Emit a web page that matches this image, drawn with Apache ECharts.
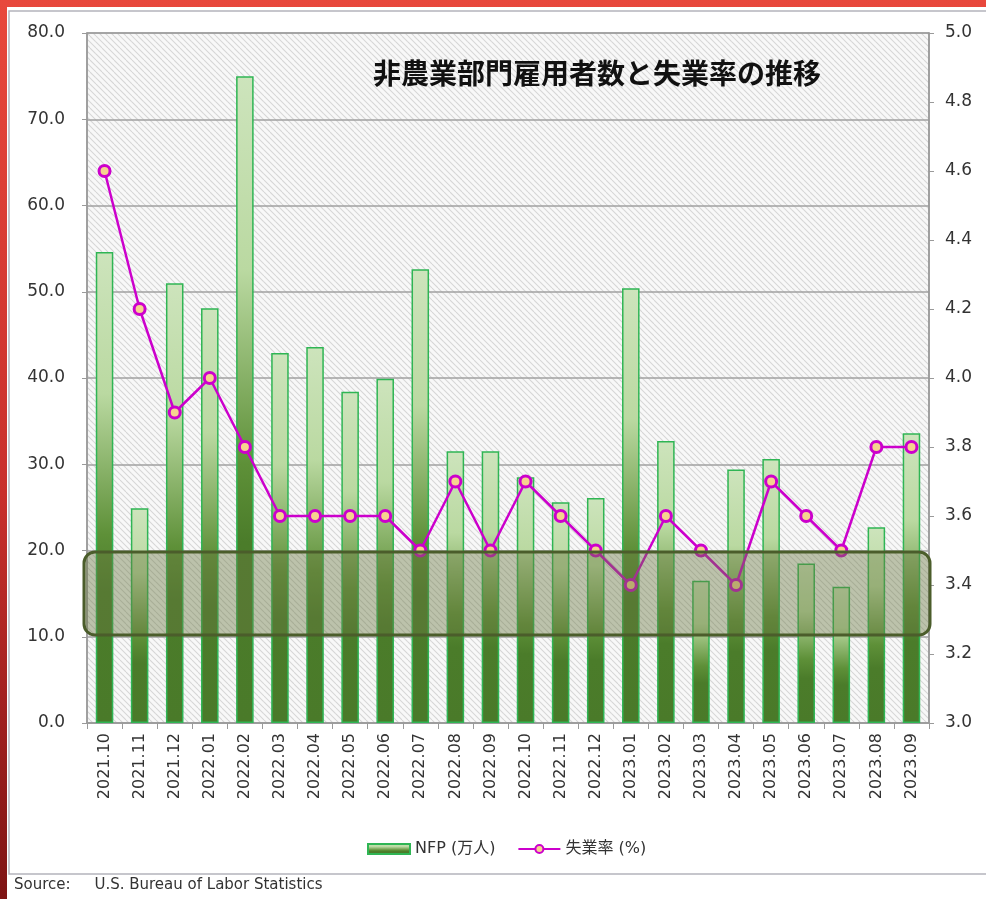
<!DOCTYPE html>
<html>
<head>
<meta charset="utf-8">
<script src="https://cdn.jsdelivr.net/npm/echarts@6/dist/echarts.min.js"></script>
<style>
    html, body { margin: 0; padding: 0; }
    #main {
        width: 986px; height: 899px;
        background: linear-gradient(180deg, #e8483c 0%, #c8302c 55%, #7e1414 100%);
    }
</style>
</head>
<body>
<div id="main"></div>
<script>
// 月
let months = ['2021.10', '2021.11', '2021.12', '2022.01', '2022.02', '2022.03', '2022.04', '2022.05',
    '2022.06', '2022.07', '2022.08', '2022.09', '2022.10', '2022.11', '2022.12', '2023.01',
    '2023.02', '2023.03', '2023.04', '2023.05', '2023.06', '2023.07', '2023.08', '2023.09'];

// 非農業部門雇用者数 (万人)
let nfp = [54.6, 24.9, 51.0, 48.1, 75.0, 42.9, 43.6, 38.4, 39.9, 52.6, 31.5, 31.5,
    28.5, 25.6, 26.1, 50.4, 32.7, 16.5, 29.4, 30.6, 18.5, 15.8, 22.7, 33.6];

// 失業率 (%)
let rate = [4.6, 4.2, 3.9, 4.0, 3.8, 3.6, 3.6, 3.6, 3.6, 3.5, 3.7, 3.5,
    3.7, 3.6, 3.5, 3.4, 3.6, 3.5, 3.4, 3.7, 3.6, 3.5, 3.8, 3.8];

let seriesNames = ['NFP (万人)', '失業率 (%)'];

// 斜線の背景パターン
function hatchCanvas() {
    let c = document.createElement('canvas');
    c.width = 12; c.height = 12;
    let ctx = c.getContext('2d');
    ctx.fillStyle = '#f8f8f8';
    ctx.fillRect(0, 0, 12, 12);
    ctx.strokeStyle = '#d6d6d6';
    ctx.lineWidth = 1.1;
    for (let k = -24; k <= 24; k += 6) {
        ctx.beginPath();
        ctx.moveTo(k, 0);
        ctx.lineTo(k + 12, 12);
        ctx.stroke();
    }
    return c;
}

let dom = document.getElementById('main');
let myChart = echarts.init(dom);

let labelFont = 'DejaVu Sans';

let option = {
    backgroundColor: 'transparent',
    animation: false,
    title: {
        text: '非農業部門雇用者数と失業率の推移',
        left: 368,
        top: 54,
        textStyle: {
            fontFamily: 'Noto Sans CJK JP',
            fontSize: 28,
            fontWeight: 'bold',
            color: '#111'
        }
    },
    legend: {
        data: [
            {name: seriesNames[0], icon: 'rect'},
            {name: seriesNames[1]}
        ],
        left: 362,
        top: 836,
        itemGap: 22,
        itemWidth: 42,
        itemHeight: 10,
        textStyle: {
            fontFamily: labelFont + ', Noto Sans CJK JP',
            fontSize: 16,
            color: '#333'
        }
    },
    grid: {
        left: 87,
        right: 57,
        top: 33,
        bottom: 176,
        show: true,
        backgroundColor: {image: hatchCanvas(), repeat: 'repeat'},
        borderColor: '#9a9a9a',
        borderWidth: 1.5
    },
    graphic: [
        {
            type: 'rect',
            z: -10,
            shape: {x: 7, y: 7, width: 985, height: 900},
            style: {fill: '#ffffff'}
        },
        {
            type: 'rect',
            z: -9,
            shape: {x: 9, y: 11, width: 990, height: 863},
            style: {fill: 'transparent', stroke: '#b4b4bc', lineWidth: 1.5}
        },
        {
            type: 'text',
            left: 14,
            top: 878,
            style: {
                text: 'Source:     U.S. Bureau of Labor Statistics',
                font: '15px DejaVu Sans',
                fill: '#333'
            }
        },
        {
            // 強調枠
            type: 'rect',
            z: 100,
            shape: {x: 84, y: 552, width: 846, height: 83, r: 11},
            style: {
                fill: 'rgba(105,118,65,0.42)',
                stroke: '#4b5d2b',
                lineWidth: 3
            }
        }
    ],
    xAxis: [{
        type: 'category',
        data: months,
        boundaryGap: true,
        axisLine: {lineStyle: {color: '#9a9a9a', width: 1.5}},
        axisTick: {show: true, length: 6, lineStyle: {color: '#9a9a9a'}},
        axisLabel: {
            interval: 0,
            rotate: 90,
            margin: 10,
            fontFamily: labelFont,
            fontSize: 16,
            color: '#333'
        }
    }],
    yAxis: [{
        type: 'value',
        min: 0,
        max: 80,
        interval: 10,
        axisLine: {show: true, lineStyle: {color: '#9a9a9a', width: 1.5}},
        axisTick: {show: true, length: 5, lineStyle: {color: '#9a9a9a'}},
        splitLine: {lineStyle: {color: '#a0a0a0', width: 1.5}},
        axisLabel: {
            margin: 22,
            fontFamily: labelFont,
            fontSize: 17,
            color: '#333',
            formatter: function (v) { return v.toFixed(1); }
        }
    }, {
        type: 'value',
        min: 3.0,
        max: 5.0,
        interval: 0.2,
        position: 'right',
        axisLine: {show: true, lineStyle: {color: '#9a9a9a', width: 1.5}},
        axisTick: {show: true, length: 5, lineStyle: {color: '#9a9a9a'}},
        splitLine: {show: false},
        axisLabel: {
            margin: 16,
            fontFamily: labelFont,
            fontSize: 17,
            color: '#333',
            formatter: function (v) { return v.toFixed(1); }
        }
    }],
    series: [{
        name: seriesNames[0],
        type: 'bar',
        barWidth: '50%',
        data: nfp,
        itemStyle: {
            color: new echarts.graphic.LinearGradient(0, 0, 0, 1, [
                {offset: 0, color: '#cde4bc'},
                {offset: 0.3, color: '#bad9a1'},
                {offset: 0.6, color: '#5e9038'},
                {offset: 0.72, color: '#4b7c2a'},
                {offset: 1, color: '#4a7a29'}
            ]),
            borderColor: '#2fb554',
            borderWidth: 1.5
        }
    }, {
        name: seriesNames[1],
        type: 'line',
        yAxisIndex: 1,
        data: rate,
        symbol: 'circle',
        symbolSize: 11,
        lineStyle: {color: '#cc00cc', width: 2.5},
        itemStyle: {
            color: '#f6d38f',
            borderColor: '#cc00cc',
            borderWidth: 3
        }
    }]
};

myChart.setOption(option);
</script>
</body>
</html>
